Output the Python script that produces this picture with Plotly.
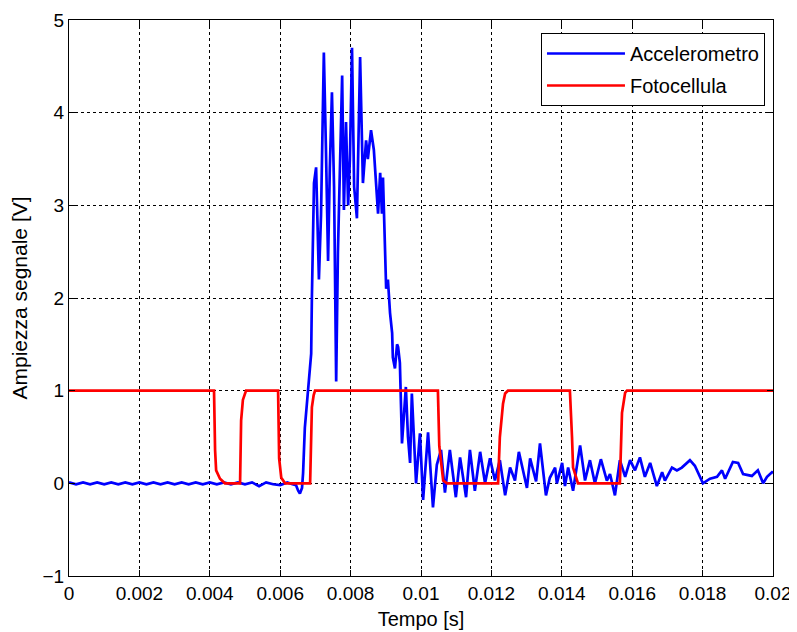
import plotly.graph_objects as go

# Accelerometro (blue) - time [s], amplitude [V]
acc_t = [0.0, 0.0002, 0.0004, 0.0006, 0.0008, 0.0010, 0.0012, 0.0014, 0.0016, 0.0018,
         0.0020, 0.0022, 0.0024, 0.0026, 0.0028, 0.0030, 0.0032, 0.0034, 0.0036, 0.0038,
         0.0040, 0.0042, 0.0044, 0.0046, 0.0048, 0.0050, 0.0052, 0.0054, 0.0056, 0.0058,
         0.0060, 0.0062, 0.00635,
         0.00645, 0.00651, 0.00656, 0.00662, 0.00665, 0.00670, 0.00676, 0.00682, 0.00688,
         0.00690, 0.00693, 0.00696, 0.00702, 0.00705, 0.00710, 0.00716, 0.00722, 0.00724,
         0.00730, 0.00733, 0.00736, 0.00741, 0.00747, 0.00753, 0.00759, 0.00764, 0.00770,
         0.00776, 0.00781, 0.00787, 0.00793, 0.00798, 0.00804, 0.00810, 0.00818, 0.00827,
         0.00835, 0.00844, 0.00849, 0.00858, 0.00866, 0.00875, 0.00878, 0.00884, 0.00889,
         0.00892, 0.00895, 0.00898, 0.00901, 0.00906, 0.00912, 0.00918, 0.00920, 0.00926,
         0.00932, 0.00935, 0.00940, 0.00946, 0.00952, 0.00957, 0.00963, 0.00969, 0.00974,
         0.00980, 0.00986, 0.00997, 0.01006, 0.01020, 0.01034, 0.01045, 0.01057, 0.01068,
         0.01082, 0.01099, 0.01111, 0.01128, 0.01139, 0.01153, 0.01168, 0.01182, 0.01196,
         0.01210, 0.01224, 0.01239, 0.01253, 0.01267, 0.01278, 0.01301, 0.01310, 0.01327,
         0.01338, 0.01355, 0.01366, 0.01381, 0.01386, 0.01401, 0.01409, 0.01418, 0.01432,
         0.01452, 0.01466, 0.01480, 0.01494, 0.01511, 0.01528, 0.01537, 0.01551, 0.01565,
         0.01580, 0.01594, 0.01608, 0.01622, 0.01636, 0.01651, 0.01670, 0.01685, 0.01693,
         0.01713, 0.01727, 0.01741, 0.01764, 0.01778, 0.01801, 0.01821, 0.01841, 0.01855,
         0.01864, 0.01886, 0.01901, 0.01915, 0.01940, 0.01957, 0.01972, 0.01983, 0.01997,
         0.0200]
acc_v = [0.01, -0.01, 0.01, -0.01, 0.01, -0.01, 0.01, -0.01, 0.01, -0.01,
         0.01, -0.01, 0.01, -0.01, 0.01, -0.01, 0.01, -0.01, 0.01, -0.01,
         0.01, -0.01, 0.01, -0.01, 0.01, -0.01, 0.01, -0.03, 0.01, -0.01,
         -0.02, 0.01, -0.01,
         -0.02, -0.08, -0.11, -0.05, 0.11, 0.60, 0.90, 1.19, 1.40,
         2.00, 2.76, 3.24, 3.41, 3.00, 2.20, 2.90, 4.10, 4.65,
         3.60, 2.76, 2.40, 3.40, 4.22, 3.20, 1.10, 2.50, 3.60,
         4.40, 2.95, 3.90, 3.00, 3.50, 4.70, 3.20, 2.86, 4.60,
         3.24, 3.70, 3.50, 3.81, 3.60, 3.16, 2.91, 3.35, 2.91,
         3.30, 2.88, 2.27, 2.10, 2.20, 1.84, 1.62, 1.36, 1.24,
         1.50, 1.47, 1.30, 0.43, 0.80, 1.04, 0.50, 0.22, 0.97,
         0.40, 0.00, 0.54, -0.18, 0.55, -0.26, 0.20, 0.36, -0.10,
         0.36, -0.15, 0.28, -0.15, 0.36, -0.08, 0.34, 0.00, 0.27,
         0.03, 0.25, -0.13, 0.17, 0.03, 0.34, -0.05, 0.27, 0.02,
         0.43, -0.13, 0.06, 0.17, 0.00, 0.22, -0.03, 0.17, -0.08,
         0.41, 0.03, 0.25, 0.00, 0.26, 0.03, 0.10, -0.13, 0.25,
         0.07, 0.25, 0.14, 0.28, 0.07, 0.22, -0.03, 0.12, 0.03,
         0.17, 0.14, 0.17, 0.25, 0.19, 0.00, 0.05, 0.07, 0.14,
         0.05, 0.23, 0.22, 0.10, 0.08, 0.14, 0.00, 0.07, 0.12,
         0.11]

# Fotocellula (red)
foto_t = [0.0, 0.00412, 0.00415, 0.00418, 0.00429, 0.00443, 0.00486, 0.00489, 0.00494, 0.00503,
          0.00594, 0.00597, 0.00603, 0.00614, 0.00685, 0.00690, 0.00695, 0.00699,
          0.01048, 0.01052, 0.01063, 0.01074, 0.01219, 0.01224, 0.01233, 0.01239, 0.01247,
          0.01423, 0.01429, 0.01432, 0.01446, 0.01565, 0.01571, 0.01580, 0.01585, 0.0200]
foto_v = [1.0, 1.0, 0.36, 0.14, 0.05, 0.0, 0.0, 0.68, 0.90, 1.0,
          1.0, 0.27, 0.06, 0.0, 0.0, 0.82, 0.95, 1.0,
          1.0, 0.40, 0.03, 0.0, 0.0, 0.50, 0.86, 0.97, 1.0,
          1.0, 0.50, 0.17, 0.0, 0.0, 0.76, 0.98, 1.0, 1.0]

x_ticks = [0, 0.002, 0.004, 0.006, 0.008, 0.01, 0.012, 0.014, 0.016, 0.018, 0.02]
x_tick_labels = ["0", "0.002", "0.004", "0.006", "0.008", "0.01", "0.012", "0.014", "0.016", "0.018", "0.02"]
y_ticks = [-1, 0, 1, 2, 3, 4, 5]

FONT = "Liberation Sans, Arial, sans-serif"

fig = go.Figure()
fig.add_trace(go.Scatter(x=acc_t, y=acc_v, mode="lines", name="Accelerometro",
                         line=dict(color="#0000ff", width=2.7), legendgroup="a"))
fig.add_trace(go.Scatter(x=foto_t, y=foto_v, mode="lines", name="Fotocellula",
                         line=dict(color="#ff0000", width=2.7), legendgroup="b"))

axis_common = dict(
    showline=True, linecolor="black", linewidth=1, mirror="allticks",
    ticks="inside", ticklen=6, tickcolor="black", tickwidth=1,
    showgrid=True, gridcolor="black", gridwidth=1, griddash="dot",
    zeroline=False, automargin=False,
    tickfont=dict(family=FONT, size=19, color="black"),
)

fig.update_xaxes(range=[0, 0.02], tickvals=x_ticks, ticktext=x_tick_labels,
                 title=dict(text="Tempo [s]", font=dict(family=FONT, size=20, color="black"), standoff=9),
                 **axis_common)
fig.update_yaxes(range=[-1, 5], tickvals=y_ticks,
                 title=dict(text="Ampiezza segnale [V]", font=dict(family=FONT, size=21, color="black"), standoff=10),
                 **axis_common)

fig.update_layout(
    width=789, height=624,
    margin=dict(l=61, r=24, t=12, b=56),
    paper_bgcolor="white", plot_bgcolor="white",
    showlegend=True,
    legend=dict(x=0.9886, y=0.9766, xanchor="right", yanchor="top",
                bgcolor="white", bordercolor="black", borderwidth=1,
                font=dict(family=FONT, size=20, color="black"),
                tracegroupgap=3, itemwidth=78),
)

fig.write_html("out.html")
